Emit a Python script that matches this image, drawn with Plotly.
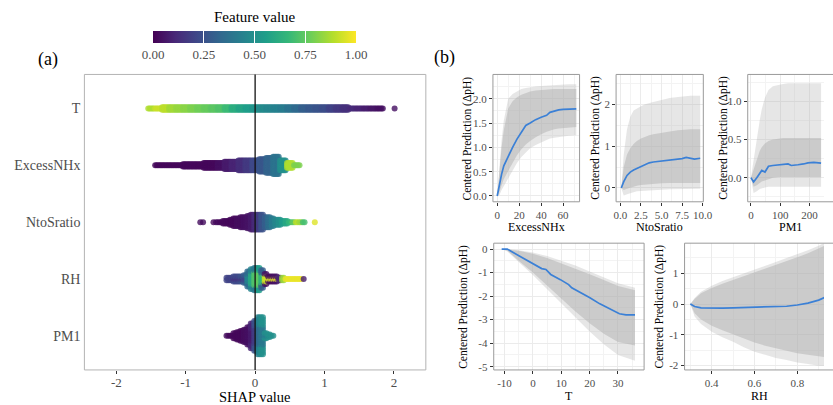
import plotly.graph_objects as go

FONT = "Liberation Serif, Times New Roman, DejaVu Serif, serif"
W, H = 833, 405
TICK_GRAY = "#4D4D4D"

# ------------------------------------------------------------------
# (a) SHAP summary (beeswarm) -- binned SHAP values per feature
#     bins: SHAP bin centres, rows: number of stacked points in bin,
#     val_a / val_b: normalised feature value (inner / outer points)
# ------------------------------------------------------------------
feature_order = ["PM1", "RH", "NtoSratio", "ExcessNHx", "T"]   # bottom -> top

T_bins = [-1.5, -1.4, -1.3, -1.2, -1.1, -1.0, -0.9, -0.8, -0.7, -0.6, -0.5, -0.4,
          -0.3, -0.2, -0.1, 0.0, 0.1, 0.2, 0.3, 0.4, 0.5, 0.6, 0.7, 0.8, 0.9, 1.0,
          1.1, 1.2, 1.3, 1.4, 1.5, 1.6, 1.7, 1.8]
T_rows = [1, 1, 2, 2, 2, 2, 2, 2, 2, 2, 2, 2, 2, 2, 2, 2, 2, 2, 2, 2, 2, 2, 2, 2,
          2, 2, 2, 2, 2, 1, 1, 1, 1, 1]
T_val = [0.88, 0.92, 0.9, 0.86, 0.84, 0.82, 0.8, 0.78, 0.76, 0.74, 0.72, 0.68,
         0.62, 0.58, 0.55, 0.52, 0.48, 0.46, 0.44, 0.42, 0.38, 0.34, 0.3, 0.28,
         0.26, 0.24, 0.2, 0.17, 0.14, 0.12, 0.1, 0.08, 0.06, 0.04]

EX_bins = [-1.4, -1.3, -1.2, -1.1, -1.0, -0.9, -0.8, -0.7, -0.6, -0.5, -0.4, -0.3,
           -0.2, -0.1, 0.0, 0.1, 0.2, 0.3, 0.4, 0.5, 0.6]
EX_rows = [1, 1, 1, 1, 2, 2, 2, 3, 3, 3, 4, 4, 5, 5, 5, 6, 7, 8, 5, 3, 1]
EX_val = [0.02, 0.02, 0.02, 0.02, 0.02, 0.02, 0.02, 0.02, 0.02, 0.04, 0.07, 0.1,
          0.13, 0.17, 0.22, 0.27, 0.32, 0.38, 0.5, 0.88, 0.8]

NS_bins = [-0.55, -0.5, -0.45, -0.4, -0.35, -0.3, -0.25, -0.2, -0.15, -0.1, -0.05,
           0.0, 0.05, 0.1, 0.15, 0.2, 0.25, 0.3, 0.35, 0.4, 0.45, 0.5, 0.55, 0.6,
           0.65, 0.7]
NS_rows = [1, 1, 2, 2, 3, 4, 4, 5, 5, 6, 7, 7, 7, 7, 5, 5, 4, 3, 3, 2, 2, 1, 1, 1,
           1, 1]
NS_val = [0.03, 0.02, 0.02, 0.02, 0.02, 0.02, 0.03, 0.03, 0.04, 0.05, 0.07, 0.12,
          0.18, 0.25, 0.3, 0.36, 0.42, 0.46, 0.5, 0.55, 0.6, 0.66, 0.75, 0.9,
          0.85, 0.7]

RH_bins = [-0.4, -0.35, -0.3, -0.25, -0.2, -0.15, -0.1, -0.05, 0.0, 0.05, 0.1,
           0.15, 0.2, 0.25, 0.3, 0.35, 0.4, 0.45, 0.5, 0.55, 0.6, 0.65]
RH_rows = [2, 2, 3, 3, 3, 4, 7, 9, 10, 10, 8, 5, 3, 3, 3, 2, 2, 1, 1, 1, 1, 1]
RH_val_a = [0.15, 0.15, 0.15, 0.15, 0.17, 0.22, 0.45, 0.6, 0.72, 0.75, 0.65, 0.92,
            0.95, 0.95, 0.97, 0.97, 0.95, 0.97, 0.97, 0.97, 0.97, 0.97]
RH_val_b = [0.2, 0.2, 0.22, 0.22, 0.25, 0.3, 0.35, 0.45, 0.4, 0.55, 0.3, 0.05,
            0.03, 0.03, 0.05, 0.1, 0.85, 0.95, 0.9, 0.95, 0.97, 0.97]

PM_bins = [-0.4, -0.35, -0.3, -0.25, -0.2, -0.15, -0.1, -0.05, 0.0, 0.05, 0.1,
           0.15, 0.2, 0.25]
PM_rows = [1, 1, 3, 4, 5, 6, 8, 11, 13, 16, 16, 3, 2, 1]
PM_val_a = [0.03, 0.02, 0.02, 0.02, 0.02, 0.03, 0.04, 0.07, 0.18, 0.35, 0.4, 0.42,
            0.45, 0.5]
PM_val_b = [0.03, 0.02, 0.02, 0.02, 0.02, 0.03, 0.04, 0.1, 0.25, 0.45, 0.5, 0.5,
            0.5, 0.5]

# isolated points
OUT_feature = ["T", "NtoSratio", "NtoSratio", "NtoSratio", "NtoSratio", "RH"]
OUT_shap = [2.01, -0.79, -0.75, -0.6, 0.86, 0.7]
OUT_val = [0.04, 0.03, 0.03, 0.02, 0.95, 0.08]

shap_ticks = [-2, -1, 0, 1, 2]
cbar_ticks = [0, 0.25, 0.5, 0.75, 1.0]
cbar_labels = ["0.00", "0.25", "0.50", "0.75", "1.00"]

# ------------------------------------------------------------------
# (b) ICE curves: average curve + envelopes (min/max and dense band)
# ------------------------------------------------------------------
EXn_x = [0, 2, 4, 6, 8, 10, 14, 18, 22, 26, 30, 35, 40, 45, 48, 52, 56, 60, 65, 72]
EXn_mean = [0, 0.25, 0.45, 0.62, 0.72, 0.8, 1.0, 1.17, 1.31, 1.45, 1.5, 1.57, 1.62,
            1.66, 1.72, 1.75, 1.77, 1.78, 1.79, 1.79]
EXn_max = [0, 0.65, 1.15, 1.55, 1.8, 2.0, 2.1, 2.15, 2.2, 2.22, 2.24, 2.25, 2.26,
           2.27, 2.28, 2.28, 2.29, 2.29, 2.3, 2.3]
EXn_hi = [0, 0.55, 1.0, 1.35, 1.6, 1.8, 1.95, 2.03, 2.08, 2.12, 2.15, 2.17, 2.18,
          2.19, 2.2, 2.2, 2.2, 2.2, 2.2, 2.2]
EXn_lo = [0, 0.08, 0.22, 0.35, 0.45, 0.52, 0.68, 0.84, 0.96, 1.06, 1.13, 1.21, 1.27,
          1.32, 1.35, 1.37, 1.39, 1.4, 1.41, 1.42]
EXn_min = [0, 0.02, 0.12, 0.2, 0.3, 0.38, 0.52, 0.68, 0.8, 0.9, 0.98, 1.05, 1.1,
           1.15, 1.18, 1.2, 1.22, 1.23, 1.24, 1.25]

NSn_x = [0.1, 0.4, 0.8, 1.2, 1.6, 2.0, 2.5, 3.0, 3.5, 4.0, 5.0, 6.0, 7.0, 7.5, 8.0,
         8.5, 9.0, 9.7]
NSn_mean = [0, 0.15, 0.3, 0.38, 0.43, 0.47, 0.52, 0.56, 0.6, 0.62, 0.64, 0.66, 0.68,
            0.7, 0.73, 0.71, 0.69, 0.71]
NSn_max = [0, 0.8, 1.4, 1.7, 1.85, 1.9, 1.95, 2.0, 2.03, 2.05, 2.1, 2.15, 2.17, 2.18,
           2.2, 2.2, 2.2, 2.2]
NSn_hi = [0, 0.5, 0.8, 0.95, 1.05, 1.12, 1.18, 1.22, 1.26, 1.28, 1.32, 1.35, 1.38,
          1.39, 1.4, 1.4, 1.4, 1.4]
NSn_lo = [0, -0.05, -0.02, 0.01, 0.03, 0.05, 0.07, 0.08, 0.09, 0.1, 0.11, 0.12,
          0.12, 0.12, 0.13, 0.12, 0.12, 0.12]
NSn_min = [0, -0.18, -0.15, -0.12, -0.1, -0.08, -0.07, -0.06, -0.05, -0.05, -0.04,
           -0.03, -0.03, -0.03, -0.02, -0.02, -0.02, -0.02]

PMn_x = [0, 9, 20, 30, 37, 48, 60, 75, 93, 110, 127, 138, 150, 161, 180, 195, 215, 240]
PMn_mean = [0, -0.056, 0.0, 0.06, 0.095, 0.074, 0.15, 0.16, 0.17, 0.175, 0.18, 0.16,
            0.17, 0.17, 0.18, 0.195, 0.2, 0.19]
PMn_max = [0, 0.2, 0.5, 0.75, 0.9, 1.05, 1.15, 1.2, 1.22, 1.23, 1.24, 1.24, 1.24,
           1.24, 1.24, 1.24, 1.24, 1.24]
PMn_hi = [0, 0.1, 0.25, 0.35, 0.4, 0.45, 0.48, 0.5, 0.51, 0.52, 0.52, 0.52, 0.52,
          0.52, 0.52, 0.52, 0.52, 0.52]
PMn_lo = [0, -0.12, -0.1, -0.07, -0.05, -0.04, -0.02, 0.0, 0.01, 0.01, 0.01, 0.01,
          0.01, 0.01, 0.01, 0.01, 0.01, 0.01]
PMn_min = [0, -0.2, -0.18, -0.15, -0.14, -0.13, -0.12, -0.12, -0.12, -0.12, -0.12,
           -0.12, -0.12, -0.12, -0.12, -0.12, -0.12, -0.12]

Tn_x = [-11, -9, -4, 0, 3.1, 4.6, 6.3, 9.7, 12.6, 13.7, 16.6, 20.1, 23.6, 27.1,
        30.5, 32.8, 36]
Tn_mean = [0, 0, -0.35, -0.64, -0.83, -0.87, -1.08, -1.30, -1.51, -1.65, -1.83,
           -2.07, -2.33, -2.54, -2.75, -2.8, -2.8]
Tn_env_x = [-11, -9, -5, 0, 5, 10, 15, 20, 25, 30, 36]
Tn_max = [0, 0, -0.05, -0.15, -0.3, -0.5, -0.7, -0.95, -1.2, -1.45, -1.65]
Tn_hi = [0, -0.01, -0.07, -0.2, -0.38, -0.6, -0.82, -1.07, -1.32, -1.57, -1.75]
Tn_lo = [0, -0.07, -0.5, -1.0, -1.55, -2.1, -2.65, -3.15, -3.6, -3.95, -4.1]
Tn_min = [0, -0.1, -0.55, -1.1, -1.7, -2.3, -2.9, -3.5, -4.05, -4.5, -4.75]

RHn_x = [0.30, 0.32, 0.35, 0.40, 0.45, 0.50, 0.55, 0.60, 0.65, 0.70, 0.75, 0.80,
         0.85, 0.90, 0.93]
RHn_mean = [0, -0.08, -0.12, -0.13, -0.13, -0.12, -0.11, -0.1, -0.1, -0.09, -0.07,
            -0.03, 0.03, 0.13, 0.22]
RHn_max = [0, 0.2, 0.4, 0.6, 0.75, 0.87, 1.0, 1.12, 1.25, 1.37, 1.5, 1.62, 1.75,
           1.9, 2.0]
RHn_hi = [0, 0.17, 0.35, 0.52, 0.66, 0.78, 0.9, 1.02, 1.15, 1.27, 1.4, 1.52, 1.65,
          1.8, 1.9]
RHn_lo = [0, -0.3, -0.5, -0.7, -0.85, -1.0, -1.12, -1.25, -1.35, -1.45, -1.52, -1.6,
          -1.65, -1.7, -1.72]
RHn_min = [0, -0.4, -0.65, -0.9, -1.08, -1.22, -1.4, -1.55, -1.65, -1.75, -1.82,
           -1.9, -1.95, -2.0, -2.0]

# ------------------------------------------------------------------
fig = go.Figure()


def px_x(p):
    return p / W


def px_y(p):
    return 1 - p / H


# ---------- beeswarm ----------
ROW_STEP = 2.5 / 57.5          # vertical spacing of stacked points (axis units)
COL_STEP = 0.02                # horizontal spacing of points within a bin


def add_swarm(name, bins, rows, val_a, val_b=None):
    ypos = feature_order.index(name) + 1
    bw = round(bins[1] - bins[0], 6)
    ncol = max(1, int(round(bw / COL_STEP)))
    if val_b is None:
        val_b = val_a
    xs, ys, cs = [], [], []
    for c, n, va, vb in zip(bins, rows, val_a, val_b):
        for j in range(ncol):
            x = c - bw / 2 + (j + 0.5) * bw / ncol
            for k in range(n):
                off = k - (n - 1) / 2
                outer = n > 1 and abs(off) >= (n - 1) / 2 * 0.6
                xs.append(x)
                ys.append(ypos + off * ROW_STEP)
                cs.append(vb if outer else va)
    fig.add_trace(go.Scatter(
        x=xs, y=ys, mode="markers", xaxis="x", yaxis="y",
        marker=dict(size=6, color=cs, coloraxis="coloraxis", opacity=0.8,
                    line=dict(width=0)),
        hoverinfo="skip", showlegend=False))


add_swarm("T", T_bins, T_rows, T_val)
add_swarm("ExcessNHx", EX_bins, EX_rows, EX_val)
add_swarm("NtoSratio", NS_bins, NS_rows, NS_val)
add_swarm("RH", RH_bins, RH_rows, RH_val_a, RH_val_b)
add_swarm("PM1", PM_bins, PM_rows, PM_val_a, PM_val_b)

fig.add_trace(go.Scatter(
    x=OUT_shap, y=[feature_order.index(f) + 1 for f in OUT_feature],
    mode="markers", xaxis="x", yaxis="y",
    marker=dict(size=6, color=OUT_val, coloraxis="coloraxis", opacity=0.8,
                line=dict(width=0)),
    hoverinfo="skip", showlegend=False))

# ---------- ICE panels ----------
OUTER_FILL = "rgba(180,180,180,0.33)"
DENSE_FILL = "rgba(180,180,180,0.55)"
BLUE = "#3B80D6"


def add_ice(ax, xs, mn, lo, hi, mx, mx_x, mean):
    xa, ya = "x%d" % ax, "y%d" % ax
    fig.add_trace(go.Scatter(
        x=list(xs) + list(xs)[::-1], y=list(mx) + list(mn)[::-1],
        fill="toself", fillcolor=OUTER_FILL, line=dict(width=0), mode="lines",
        xaxis=xa, yaxis=ya, hoverinfo="skip", showlegend=False))
    fig.add_trace(go.Scatter(
        x=list(xs) + list(xs)[::-1], y=list(hi) + list(lo)[::-1],
        fill="toself", fillcolor=DENSE_FILL, line=dict(width=0), mode="lines",
        xaxis=xa, yaxis=ya, hoverinfo="skip", showlegend=False))
    fig.add_trace(go.Scatter(
        x=mx_x, y=mean, mode="lines", line=dict(color=BLUE, width=1.7),
        xaxis=xa, yaxis=ya, hoverinfo="skip", showlegend=False))


add_ice(2, EXn_x, EXn_min, EXn_lo, EXn_hi, EXn_max, EXn_x, EXn_mean)
add_ice(3, NSn_x, NSn_min, NSn_lo, NSn_hi, NSn_max, NSn_x, NSn_mean)
add_ice(4, PMn_x, PMn_min, PMn_lo, PMn_hi, PMn_max, PMn_x, PMn_mean)
add_ice(5, Tn_env_x, Tn_min, Tn_lo, Tn_hi, Tn_max, Tn_x, Tn_mean)
add_ice(6, RHn_x, RHn_min, RHn_lo, RHn_hi, RHn_max, RHn_x, RHn_mean)

# ---------- axes ----------
tickfont_a = dict(family=FONT, size=14, color=TICK_GRAY)
tickfont_ax = dict(family=FONT, size=13, color=TICK_GRAY)
tickfont_b = dict(family=FONT, size=11, color=TICK_GRAY)

layout_axes = {}
layout_axes["xaxis"] = dict(
    domain=[px_x(83.5), px_x(429.5)], range=[-2.46, 2.46], anchor="y",
    tickmode="array", tickvals=shap_ticks, ticktext=[str(v) for v in shap_ticks],
    ticks="outside", ticklen=3, tickcolor="#333333", tickwidth=1,
    ticklabelstandoff=-3,
    tickfont=tickfont_ax, showgrid=False, zeroline=False, showline=False)
layout_axes["yaxis"] = dict(
    domain=[px_y(372.7), px_y(75)], range=[0.4, 5.6], anchor="x",
    tickmode="array", tickvals=[1, 2, 3, 4, 5], ticktext=feature_order,
    ticks="", tickfont=tickfont_a, showgrid=False, zeroline=False,
    showline=False, ticklabelstandoff=3)


def ice_axes(n, xdom, ydom, xr, yr, xt, xtt, xminor, yt, ytt, yminor):
    common = dict(ticks="outside", ticklen=3, tickcolor="#333333", tickwidth=1,
                  tickfont=tickfont_b, showgrid=True, gridcolor="#EBEBEB",
                  gridwidth=1, zeroline=False, showline=False)
    layout_axes["xaxis%d" % n] = dict(
        domain=xdom, range=xr, anchor="y%d" % n, tickmode="array", tickvals=xt,
        ticktext=xtt,
        minor=dict(tickmode="array", tickvals=xminor, showgrid=True,
                   gridcolor="#F3F3F3", gridwidth=0.6, ticks=""),
        **common)
    layout_axes["yaxis%d" % n] = dict(
        domain=ydom, range=yr, anchor="x%d" % n, tickmode="array", tickvals=yt,
        ticktext=ytt,
        minor=dict(tickmode="array", tickvals=yminor, showgrid=True,
                   gridcolor="#F3F3F3", gridwidth=0.6, ticks=""),
        **common)


top_dom = [px_y(203.3), px_y(75)]
bot_dom = [px_y(372.7), px_y(245)]

ice_axes(2, [px_x(497.5), px_x(585.3)], top_dom, [-3.9, 75], [-0.12, 2.5],
         [0, 20, 40, 60], ["0", "20", "40", "60"], [10, 30, 50, 70],
         [0, 0.5, 1.0, 1.5, 2.0], ["0.0", "0.5", "1.0", "1.5", "2.0"],
         [0.25, 0.75, 1.25, 1.75, 2.25])
ice_axes(3, [px_x(622.3), px_x(710.7)], top_dom, [-0.53, 10.08], [-0.33, 2.71],
         [0, 2.5, 5, 7.5, 10], ["0.0", "2.5", "5.0", "7.5", "10.0"],
         [1.25, 3.75, 6.25, 8.75],
         [0, 1, 2], ["0", "1", "2"], [0.5, 1.5, 2.5])
ice_axes(4, [px_x(755.7), 1.0], top_dom, [-11, 250], [-0.317, 1.356],
         [0, 100, 200], ["0", "100", "200"], [50, 150, 250],
         [0, 0.5, 1.0], ["0.0", "0.5", "1.0"], [-0.25, 0.25, 0.75, 1.25])
ice_axes(5, [px_x(498.3), px_x(650.7)], bot_dom, [-13.8, 39.2], [-5.14, 0.25],
         [-10, 0, 10, 20, 30], ["-10", "0", "10", "20", "30"], [-5, 5, 15, 25, 35],
         [0, -1, -2, -3, -4, -5], ["0", "-1", "-2", "-3", "-4", "-5"],
         [-0.5, -1.5, -2.5, -3.5, -4.5])
ice_axes(6, [px_x(691.7), 1.0], bot_dom, [0.273, 0.925], [-2.14, 1.98],
         [0.4, 0.6, 0.8], ["0.4", "0.6", "0.8"], [0.3, 0.5, 0.7, 0.9],
         [-2, -1, 0, 1], ["-2", "-1", "0", "1"], [-1.5, -0.5, 0.5, 1.5])

# ---------- panel borders / zero line ----------
shapes = [
    dict(type="rect", xref="x domain", yref="y domain", x0=0, x1=1, y0=0, y1=1,
         line=dict(color="#B3B3B3", width=1), layer="above"),
    dict(type="line", xref="x", yref="y domain", x0=0, x1=0, y0=0, y1=1,
         line=dict(color="#111111", width=1.3), layer="above"),
]
for n, x1 in [(2, 1), (3, 1), (4, 1.3), (5, 1), (6, 1.3)]:
    shapes.append(dict(type="rect", xref="x%d domain" % n, yref="y%d domain" % n,
                       x0=0, x1=x1, y0=0, y1=1,
                       line=dict(color="#9A9A9A", width=1), layer="above"))


# ---------- text ----------
def ann(text, x, y, size, color="#000000", angle=0):
    return dict(text=text, x=px_x(x), y=px_y(y), xref="paper", yref="paper",
                xanchor="center", yanchor="middle", showarrow=False,
                borderpad=0,
                textangle=angle, font=dict(family=FONT, size=size, color=color))


annotations = [
    ann("(a)", 47, 60, 18),
    ann("(b)", 448, 58, 18),
    ann("Feature value", 256, 17, 15),
    ann("SHAP value", 256.5, 400, 14.5),
    ann("ExcessNHx", 541.4, 228.5, 12),
    ann("NtoSratio", 666.5, 228.5, 12),
    ann("PM1", 799, 228.5, 12),
    ann("T", 574.5, 398.5, 12),
    ann("RH", 768, 398.5, 12),
]
ylab = "Centered Prediction (\u0394pH)"
for x, y in [(471.7, 139), (601.7, 139), (731.5, 139), (468.3, 309), (666.7, 309)]:
    annotations.append(ann(ylab, x, y, 11.5, angle=-90))

fig.update_layout(
    width=W, height=H, margin=dict(l=0, r=0, t=0, b=0),
    paper_bgcolor="white", plot_bgcolor="white", showlegend=False,
    font=dict(family=FONT),
    coloraxis=dict(
        colorscale="Viridis", cmin=0, cmax=1,
        colorbar=dict(
            orientation="h", x=px_x(256), xanchor="center", y=px_y(31),
            yanchor="top", len=206 / W, lenmode="fraction", thickness=12,
            thicknessmode="pixels", xpad=0, ypad=0, outlinewidth=0,
            tickmode="array", tickvals=cbar_ticks, ticktext=cbar_labels,
            ticks="inside", ticklen=12, tickcolor="white", tickwidth=1,
            tickfont=dict(family=FONT, size=13, color=TICK_GRAY))),
    shapes=shapes, annotations=annotations,
    **layout_axes)

fig.write_html("out.html", config={"displayModeBar": False},
               post_script="document.body.style.margin='0';"
                           "document.body.style.padding='0';")
